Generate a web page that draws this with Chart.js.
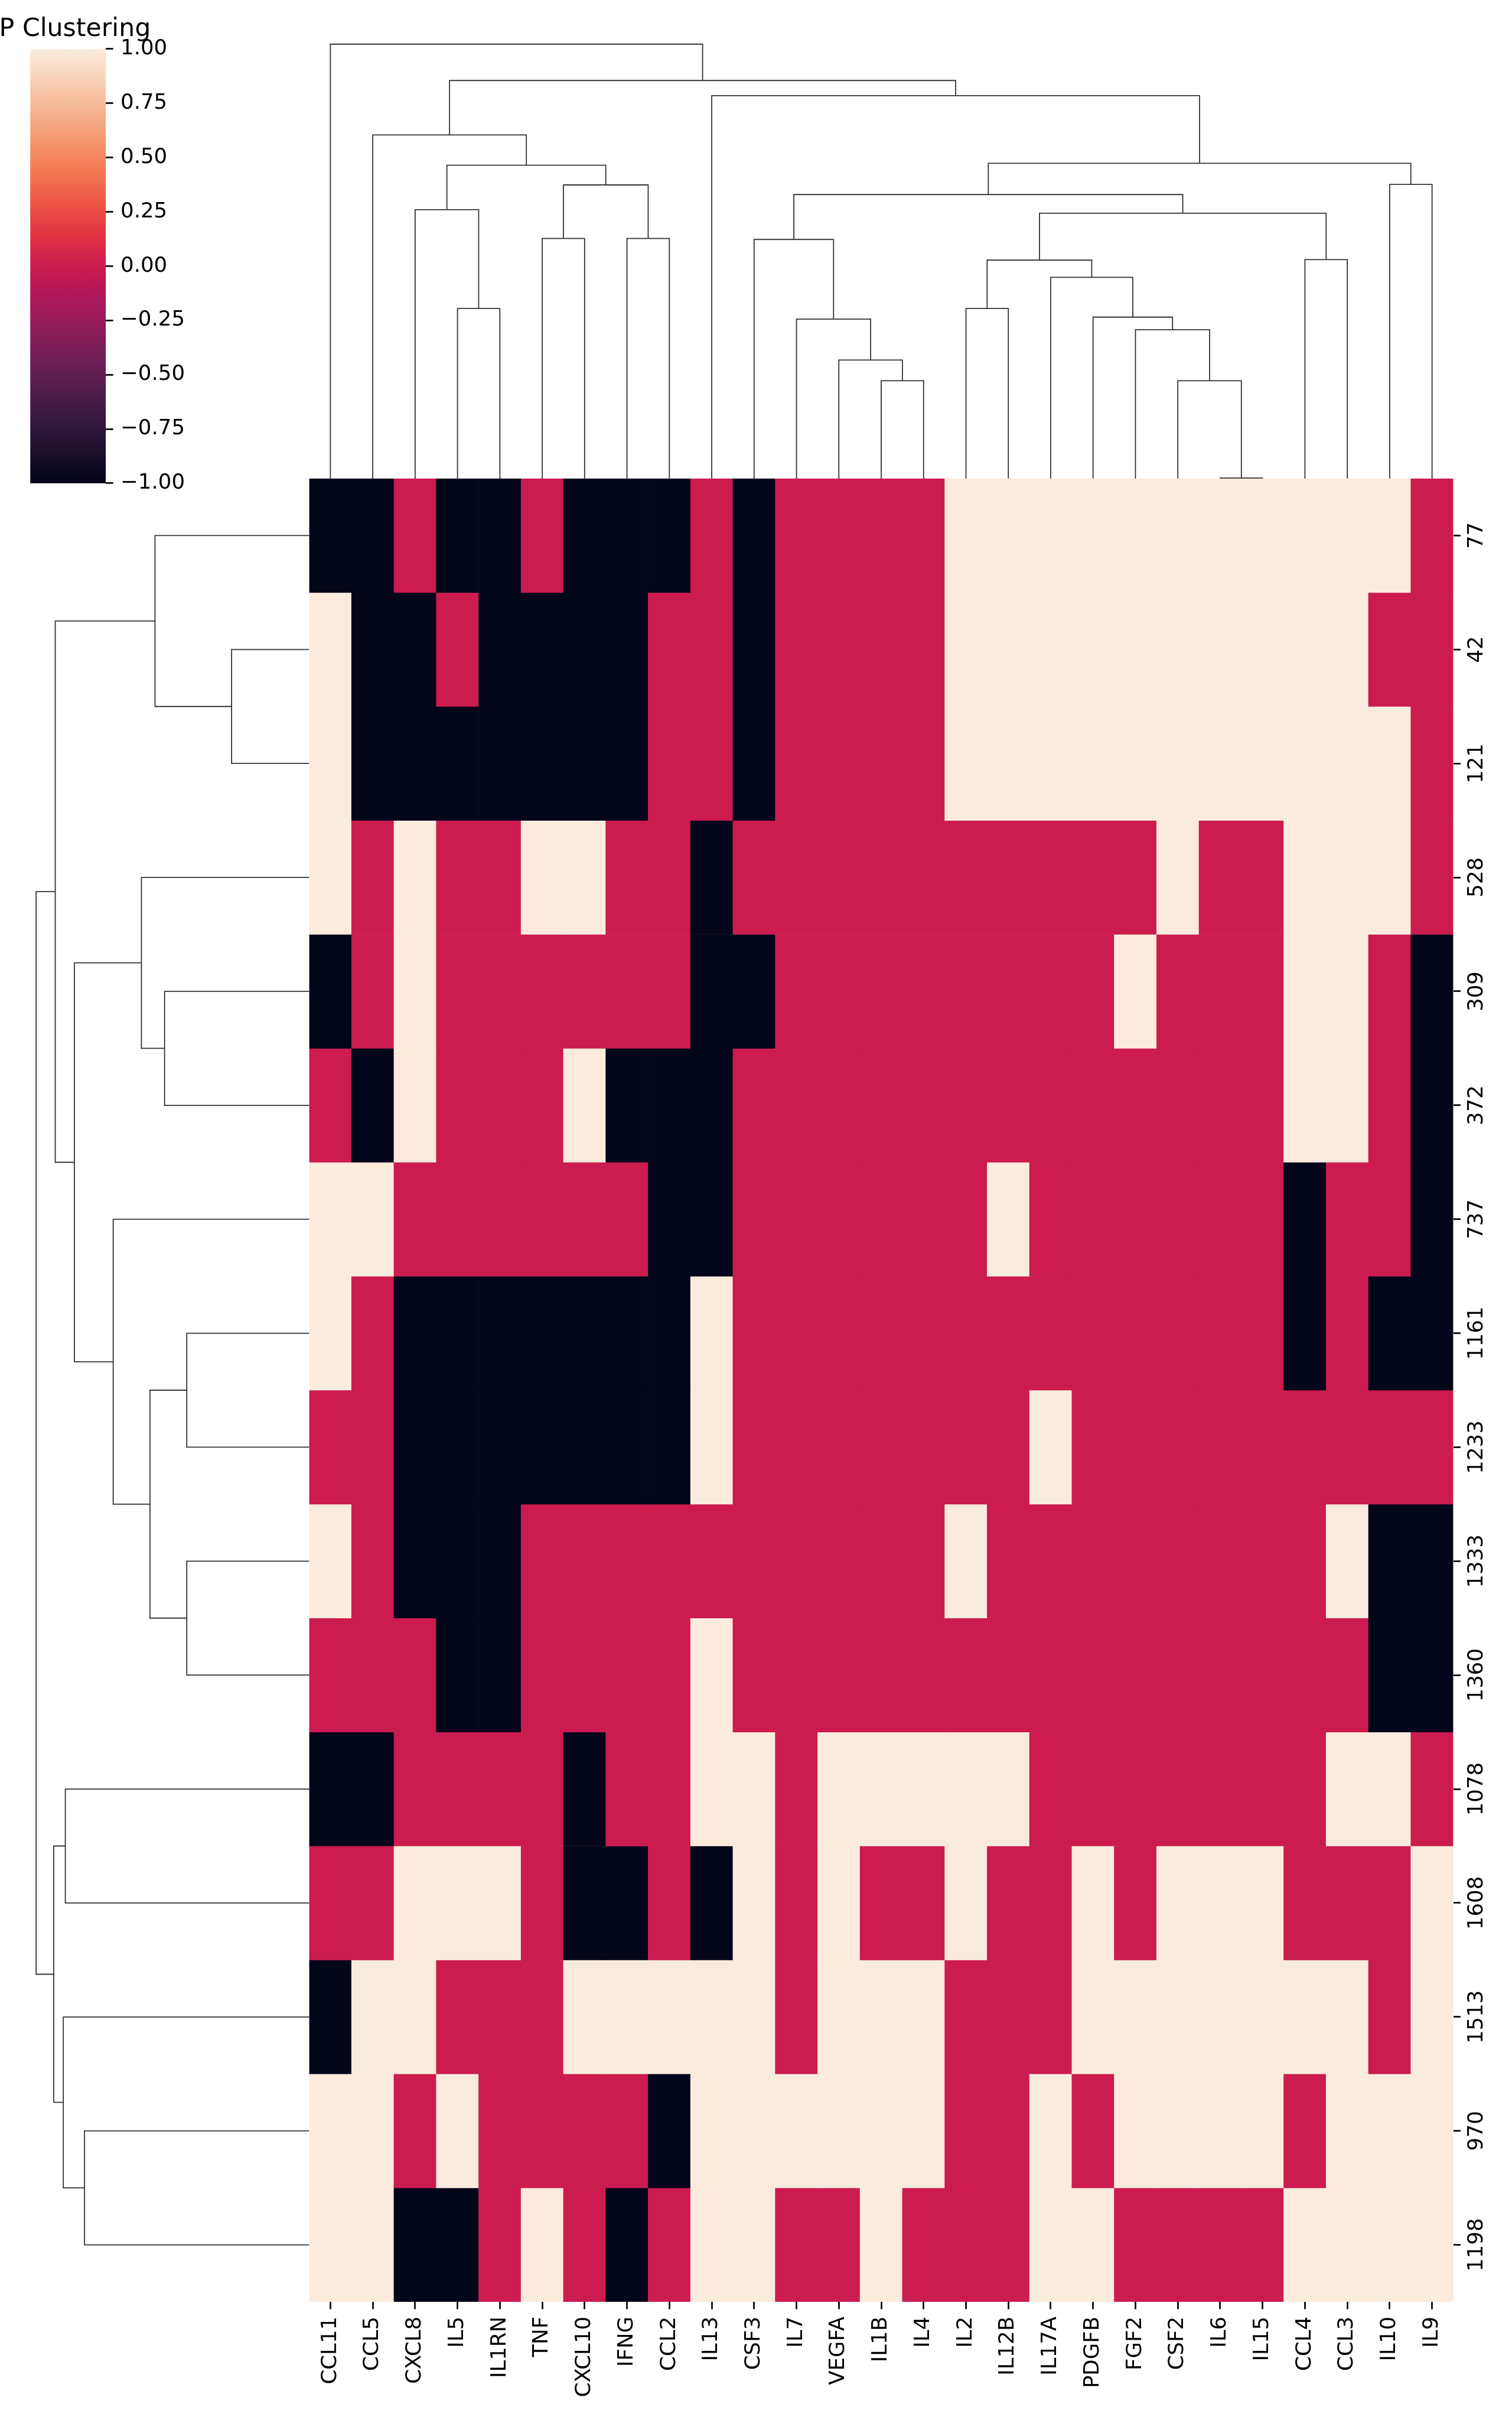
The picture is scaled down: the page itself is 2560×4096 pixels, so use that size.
<!DOCTYPE html>
<html>
<head>
<meta charset="utf-8">
<script src="https://cdn.jsdelivr.net/npm/chart.js@4.4.1/dist/chart.umd.min.js"></script>
<style>
html, body { margin: 0; padding: 0; background: #ffffff; width: 2560px; height: 4096px; overflow: hidden; }
canvas { position: absolute; }
</style>
</head>
<body>
<canvas id="cbar" style="left:0px;top:0px;width:340px;height:860px" width="340" height="860"></canvas>
<canvas id="ldend" style="left:30px;top:806px;width:498px;height:3094px" width="498" height="3094"></canvas>
<canvas id="tdend" style="left:520px;top:30px;width:1945px;height:784px" width="1945" height="784"></canvas>
<canvas id="heat" style="left:520px;top:806px;width:2031px;height:3290px" width="2031" height="3290"></canvas>
<script>
// ---------------- data ----------------
const figTitle = "P Clustering";
const columns = ["CCL11","CCL5","CXCL8","IL5","IL1RN","TNF","CXCL10","IFNG","CCL2","IL13","CSF3","IL7","VEGFA","IL1B","IL4","IL2","IL12B","IL17A","PDGFB","FGF2","CSF2","IL6","IL15","CCL4","CCL3","IL10","IL9"];
const rowLabels = ["77","42","121","528","309","372","737","1161","1233","1333","1360","1078","1608","1513","970","1198"];

const r77   = [-1,-1, 0,-1,-1, 0,-1,-1,-1, 0,-1, 0, 0, 0, 0, 1, 1, 1, 1, 1, 1, 1, 1, 1, 1, 1, 0];
const r42   = [ 1,-1,-1, 0,-1,-1,-1,-1, 0, 0,-1, 0, 0, 0, 0, 1, 1, 1, 1, 1, 1, 1, 1, 1, 1, 0, 0];
const r121  = [ 1,-1,-1,-1,-1,-1,-1,-1, 0, 0,-1, 0, 0, 0, 0, 1, 1, 1, 1, 1, 1, 1, 1, 1, 1, 1, 0];
const r528  = [ 1, 0, 1, 0, 0, 1, 1, 0, 0,-1, 0, 0, 0, 0, 0, 0, 0, 0, 0, 0, 1, 0, 0, 1, 1, 1, 0];
const r309  = [-1, 0, 1, 0, 0, 0, 0, 0, 0,-1,-1, 0, 0, 0, 0, 0, 0, 0, 0, 1, 0, 0, 0, 1, 1, 0,-1];
const r372  = [ 0,-1, 1, 0, 0, 0, 1,-1,-1,-1, 0, 0, 0, 0, 0, 0, 0, 0, 0, 0, 0, 0, 0, 1, 1, 0,-1];
const r737  = [ 1, 1, 0, 0, 0, 0, 0, 0,-1,-1, 0, 0, 0, 0, 0, 0, 1, 0, 0, 0, 0, 0, 0,-1, 0, 0,-1];
const r1161 = [ 1, 0,-1,-1,-1,-1,-1,-1,-1, 1, 0, 0, 0, 0, 0, 0, 0, 0, 0, 0, 0, 0, 0,-1, 0,-1,-1];
const r1233 = [ 0, 0,-1,-1,-1,-1,-1,-1,-1, 1, 0, 0, 0, 0, 0, 0, 0, 1, 0, 0, 0, 0, 0, 0, 0, 0, 0];
const r1333 = [ 1, 0,-1,-1,-1, 0, 0, 0, 0, 0, 0, 0, 0, 0, 0, 1, 0, 0, 0, 0, 0, 0, 0, 0, 1,-1,-1];
const r1360 = [ 0, 0, 0,-1,-1, 0, 0, 0, 0, 1, 0, 0, 0, 0, 0, 0, 0, 0, 0, 0, 0, 0, 0, 0, 0,-1,-1];
const r1078 = [-1,-1, 0, 0, 0, 0,-1, 0, 0, 1, 1, 0, 1, 1, 1, 1, 1, 0, 0, 0, 0, 0, 0, 0, 1, 1, 0];
const r1608 = [ 0, 0, 1, 1, 1, 0,-1,-1, 0,-1, 1, 0, 1, 0, 0, 1, 0, 0, 1, 0, 1, 1, 1, 0, 0, 0, 1];
const r1513 = [-1, 1, 1, 0, 0, 0, 1, 1, 1, 1, 1, 0, 1, 1, 1, 0, 0, 0, 1, 1, 1, 1, 1, 1, 1, 0, 1];
const r970  = [ 1, 1, 0, 1, 0, 0, 0, 0,-1, 1, 1, 1, 1, 1, 1, 0, 0, 1, 0, 1, 1, 1, 1, 0, 1, 1, 1];
const r1198 = [ 1, 1,-1,-1, 0, 1, 0,-1, 0, 1, 1, 0, 0, 1, 0, 0, 0, 1, 1, 0, 0, 0, 0, 1, 1, 1, 1];
const heatValues = [r77, r42, r121, r528, r309, r372, r737, r1161, r1233, r1333, r1360, r1078, r1608, r1513, r970, r1198];

// column linkage (leaf ids = display order; new clusters get ids 27, 28, ...)
const colLinkA = [21, 13, 20, 12, 19, 11, 18, 15, 3, 17, 34, 23, 10, 5, 7, 37, 2, 39, 40, 25, 43, 44, 1, 9, 49, 0];
const colLinkB = [22, 14, 27, 28, 29, 30, 31, 16, 4, 33, 36, 24, 32, 6, 8, 38, 35, 42, 41, 26, 45, 46, 47, 48, 50, 51];
const colLinkH = [0.01, 1.94, 1.94, 2.35, 2.95, 3.16, 3.20, 3.37, 3.37, 3.99, 4.33, 4.34, 4.74, 4.76, 4.76, 5.26, 5.33, 5.63, 5.82, 5.83, 6.21, 6.25, 6.81, 7.59, 7.89, 8.61];

// row linkage (leaf ids = display order; new clusters get ids 16, 17, ...)
const rowLinkA = [1, 7, 9, 4, 0, 17, 3, 6, 14, 22, 11, 13, 20, 26, 28];
const rowLinkB = [2, 8, 10, 5, 16, 18, 19, 21, 15, 23, 12, 24, 25, 27, 29];
const rowLinkH = [1.54, 2.43, 2.43, 2.87, 3.06, 3.16, 3.33, 3.89, 4.46, 4.66, 4.84, 4.88, 5.04, 5.07, 5.42];

const cbarTicks = [1, 0.75, 0.5, 0.25, 0, -0.25, -0.5, -0.75, -1];

// ---------------- style ----------------
const FONT = "'DejaVu Sans', 'Liberation Sans', sans-serif";
const TICK_FS = 35.56;
const TICK_LEN = 12.44;
const TICK_W = 2.7;
const TREE_COLOR = '#333333';
const TREE_W = 1.8;
const rocketStops = [
  [0.000, [3, 5, 26]],
  [0.071, [27, 15, 44]],
  [0.143, [53, 25, 62]],
  [0.214, [82, 29, 75]],
  [0.286, [112, 31, 87]],
  [0.357, [143, 28, 90]],
  [0.429, [173, 23, 89]],
  [0.500, [203, 27, 79]],
  [0.571, [225, 51, 66]],
  [0.643, [237, 84, 69]],
  [0.714, [243, 118, 81]],
  [0.786, [245, 150, 108]],
  [0.857, [246, 180, 143]],
  [0.929, [248, 209, 183]],
  [1.000, [250, 235, 221]]
];
function cmap(t) {
  t = Math.max(0, Math.min(1, t));
  for (let i = 1; i < rocketStops.length; i++) {
    const [t1, c1] = rocketStops[i];
    const [t0, c0] = rocketStops[i - 1];
    if (t <= t1) {
      const f = (t - t0) / (t1 - t0);
      const c = c0.map((v, k) => Math.round(v + (c1[k] - v) * f));
      return `rgb(${c[0]},${c[1]},${c[2]})`;
    }
  }
  const c = rocketStops[rocketStops.length - 1][1];
  return `rgb(${c[0]},${c[1]},${c[2]})`;
}
const VMIN = -1, VMAX = 1;
const colorOf = v => cmap((v - VMIN) / (VMAX - VMIN));

Chart.defaults.font.family = FONT;
Chart.defaults.color = '#000000';

function zeroPad(s) { s.paddingLeft = 0; s.paddingRight = 0; s.paddingTop = 0; s.paddingBottom = 0; }
const commonOpts = {
  responsive: false,
  animation: false,
  devicePixelRatio: 1,
  events: [],
  plugins: { legend: { display: false }, tooltip: { enabled: false }, title: { display: false } }
};

// ---------------- dendrogram geometry from linkage ----------------
function dendroLinks(n, A, B, H) {
  const pos = [], hgt = [];
  for (let i = 0; i < n; i++) { pos[i] = i + 0.5; hgt[i] = 0; }
  const links = [];
  A.forEach((a, k) => {
    const b = B[k], h = H[k];
    links.push([[pos[a], hgt[a]], [pos[a], h], [pos[b], h], [pos[b], hgt[b]]]);
    pos[n + k] = (pos[a] + pos[b]) / 2;
    hgt[n + k] = h;
  });
  return links;
}

// ---------------- colorbar + title ----------------
const titlePlugin = {
  id: 'figTitle',
  afterDraw(chart) {
    const c = chart.ctx;
    c.save();
    c.font = `42.67px ${FONT}`;
    c.fillStyle = '#000000';
    c.textAlign = 'left';
    c.textBaseline = 'alphabetic';
    c.fillText(figTitle, -1.4, 60.9);
    c.restore();
  }
};
const fmtTick = v => (v < 0 ? '\u2212' : '') + Math.abs(v).toFixed(2);

new Chart(document.getElementById('cbar'), {
  type: 'bar',
  data: {
    labels: [''],
    datasets: [{
      data: [[VMIN, VMAX]],
      backgroundColor: (ctx) => {
        const ca = ctx.chart.chartArea;
        if (!ca) return colorOf(0);
        const g = ctx.chart.ctx.createLinearGradient(0, ca.bottom, 0, ca.top);
        rocketStops.forEach(([t, c]) => g.addColorStop(t, `rgb(${c[0]},${c[1]},${c[2]})`));
        return g;
      },
      borderWidth: 0,
      barPercentage: 1,
      categoryPercentage: 1
    }]
  },
  options: Object.assign({}, commonOpts, {
    layout: { padding: { left: 51.2, top: 82.8, right: 0, bottom: 42.1 } },
    scales: {
      x: { display: false },
      y: {
        type: 'linear', position: 'right', min: VMIN, max: VMAX,
        afterBuildTicks: s => { s.ticks = cbarTicks.map(v => ({ value: v })); },
        grid: { display: true, drawOnChartArea: false, drawTicks: true, tickLength: TICK_LEN, tickWidth: TICK_W, tickColor: '#000000' },
        border: { display: false },
        ticks: { padding: TICK_LEN, color: '#000000', font: { family: FONT, size: TICK_FS }, callback: v => fmtTick(v), autoSkip: false },
        afterFit: s => { s.width = 160.8; zeroPad(s); }
      }
    }
  }),
  plugins: [titlePlugin]
});

// ---------------- top (column) dendrogram ----------------
const colLinks = dendroLinks(columns.length, colLinkA, colLinkB, colLinkH);
new Chart(document.getElementById('tdend'), {
  type: 'scatter',
  data: {
    datasets: colLinks.map(pts => ({
      data: pts.map(([p, h]) => ({ x: p, y: h })),
      showLine: true, borderColor: TREE_COLOR, borderWidth: TREE_W,
      pointRadius: 0, fill: false, clip: false, tension: 0
    }))
  },
  options: Object.assign({}, commonOpts, {
    layout: { padding: { left: 3.5, right: 4.5, top: 8, bottom: 4 } },
    scales: {
      x: { type: 'linear', display: false, min: 0, max: columns.length },
      y: { type: 'linear', display: false, min: 0, max: Math.max(...colLinkH) * 1.05 }
    }
  })
});

// ---------------- left (row) dendrogram ----------------
const rowLinks = dendroLinks(rowLabels.length, rowLinkA, rowLinkB, rowLinkH);
new Chart(document.getElementById('ldend'), {
  type: 'scatter',
  data: {
    datasets: rowLinks.map(pts => ({
      data: pts.map(([p, h]) => ({ x: h, y: p })),
      showLine: true, borderColor: TREE_COLOR, borderWidth: TREE_W,
      pointRadius: 0, fill: false, clip: false, tension: 0
    }))
  },
  options: Object.assign({}, commonOpts, {
    layout: { padding: { left: 8, right: 4.5, top: 4, bottom: 4 } },
    scales: {
      x: { type: 'linear', display: false, reverse: true, min: 0, max: Math.max(...rowLinkH) * 1.05 },
      y: { type: 'linear', display: false, reverse: true, min: 0, max: rowLabels.length }
    }
  })
});

// ---------------- heatmap ----------------
const heatDatasets = heatValues.map((vals, r) => ({
  label: rowLabels[r],
  data: vals.map(() => [r, r + 1]),
  backgroundColor: vals.map(colorOf),
  borderWidth: 0,
  barPercentage: 1,
  categoryPercentage: 1,
  grouped: false
}));

new Chart(document.getElementById('heat'), {
  type: 'bar',
  data: { labels: columns, datasets: heatDatasets },
  options: Object.assign({}, commonOpts, {
    layout: { padding: { left: 3.5, top: 4, right: 0, bottom: 0 } },
    scales: {
      x: {
        type: 'category', position: 'bottom', offset: true,
        grid: { display: true, offset: false, drawOnChartArea: false, drawTicks: true, tickLength: TICK_LEN, tickWidth: TICK_W, tickColor: '#000000' },
        border: { display: false },
        ticks: { autoSkip: false, minRotation: 90, maxRotation: 90, padding: TICK_LEN, color: '#000000', font: { family: FONT, size: TICK_FS } },
        afterFit: s => { s.height = 200; zeroPad(s); }
      },
      y: {
        type: 'linear', position: 'right', min: 0, max: rowLabels.length, reverse: true,
        afterBuildTicks: s => { s.ticks = rowLabels.map((_, i) => ({ value: i + 0.5 })); },
        grid: { display: true, offset: false, drawOnChartArea: false, drawTicks: true, tickLength: TICK_LEN, tickWidth: TICK_W, tickColor: '#000000' },
        border: { display: false },
        ticks: { autoSkip: false, minRotation: 90, maxRotation: 90, crossAlign: 'center', padding: -17.2, color: '#000000', font: { family: FONT, size: TICK_FS }, callback: v => rowLabels[Math.floor(v)] },
        afterFit: s => { s.width = 90.5; zeroPad(s); }
      }
    }
  })
});
</script>
</body>
</html>
